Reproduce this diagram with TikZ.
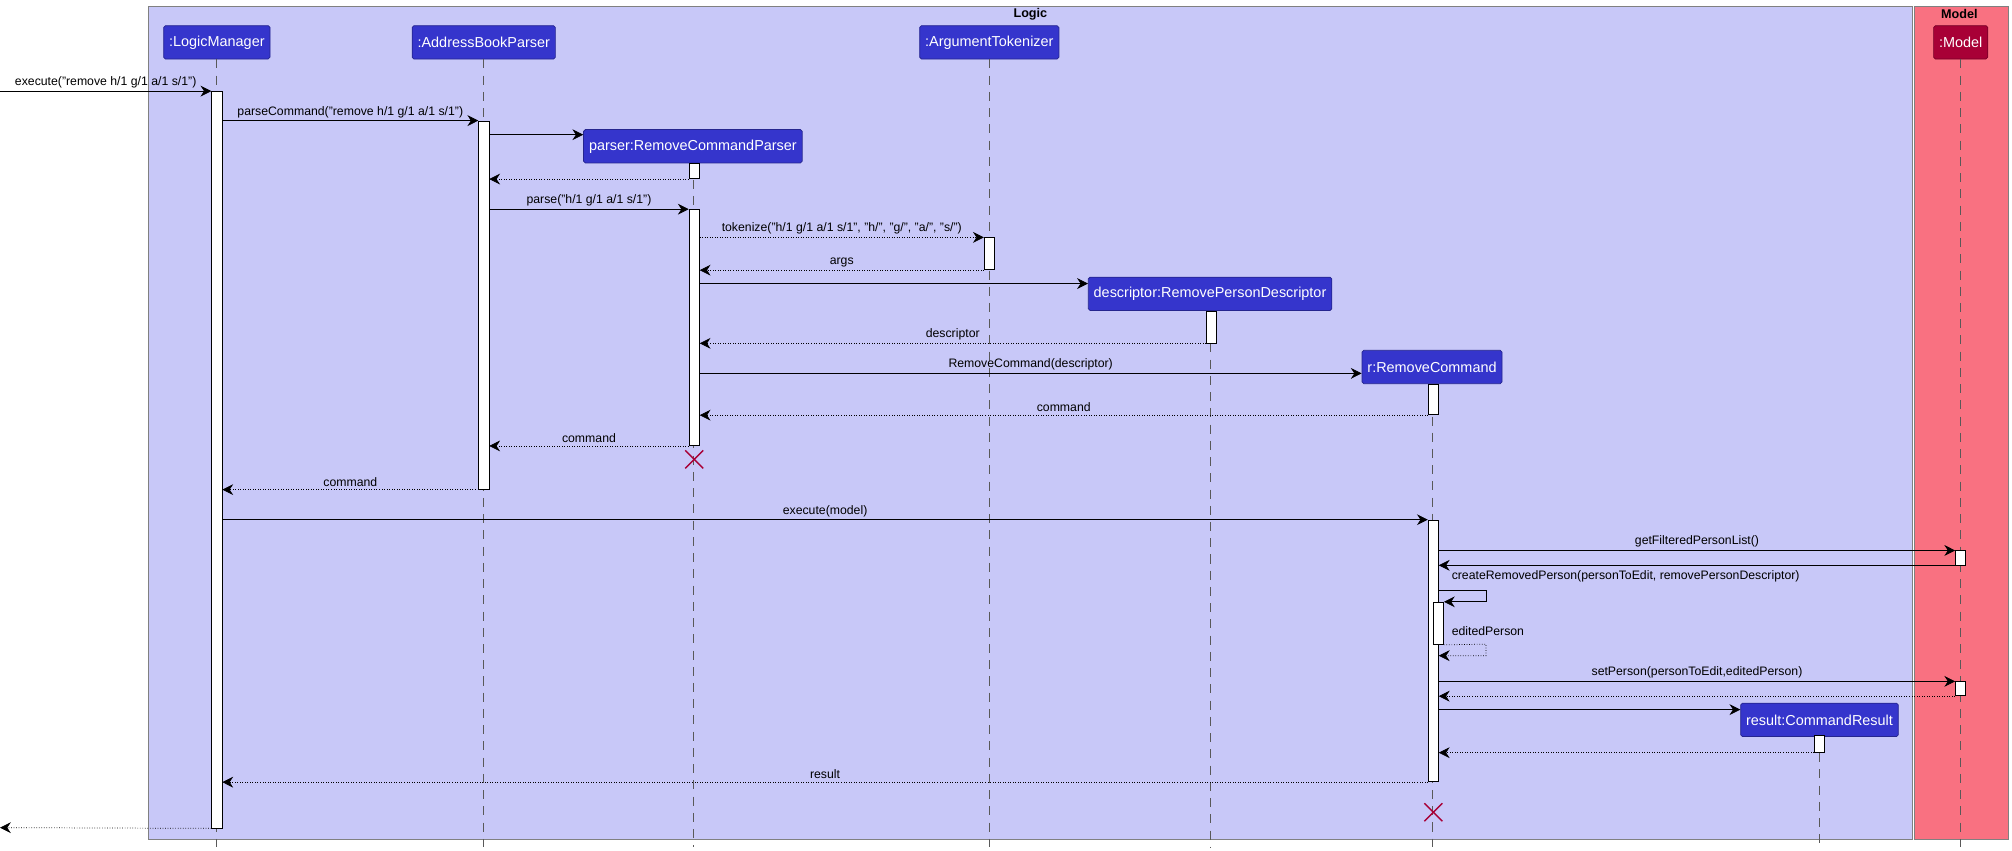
\documentclass[tikz,border=0pt]{standalone}
\usepackage{fontspec}
\setmainfont{Liberation Sans}
\usetikzlibrary{arrows.meta,positioning}

\definecolor{logicbg}{HTML}{C8C8F8}
\definecolor{modelbg}{HTML}{F97181}
\definecolor{partblue}{HTML}{3535CC}
\definecolor{partred}{HTML}{A80036}

\tikzset{
  part/.style={draw=partblue!70!black,fill=partblue,text=white,rounded corners=1pt,
               font=\fontsize{8}{9}\selectfont,inner xsep=3pt,minimum height=0.65cm},
  bar/.style={draw=black,fill=white,minimum width=0.2cm,inner sep=0pt,anchor=north},
  life/.style={draw=gray!70!black,dash pattern=on 5pt off 4pt,thin},
  msg/.style={-{Stealth[length=6pt,width=6pt]},thin},
  ret/.style={msg,densely dotted},
  lbl/.style={font=\fontsize{6.8}{8}\selectfont,inner sep=1.5pt,above},
  kill/.style={draw=partred,thick},
}
\newcommand{\actbar}[4]{\node[bar,minimum height={(#4-#3)*0.025cm}] (#1) at (#2,#3) {};}

\begin{document}
\begin{tikzpicture}[x=0.025cm,y=-0.025cm]
\useasboundingbox (0,0) rectangle (1568,663);

% frames
\filldraw[fill=logicbg,draw=gray] (116,5) rectangle (1490,654);
\filldraw[fill=modelbg,draw=gray] (1492,5) rectangle (1565,654);
\node[font=\fontsize{7}{8}\selectfont\bfseries] (logicT) at (803,11) {Logic};
\node[font=\fontsize{7}{8}\selectfont\bfseries] (modelT) at (1527,11) {Model};

% participants
\node[part] (lm) at (169,33) {:LogicManager};
\node[part] (abp) at (377,33) {:AddressBookParser};
\node[part] (at) at (771,33) {:ArgumentTokenizer};
\node[part,fill=partred,draw=partred!70!black] (mdl) at (1528,33) {:Model};
\node[part] (rcp) at (540,114) {parser:RemoveCommandParser};
\node[part] (desc) at (943,229) {descriptor:RemovePersonDescriptor};
\node[part] (rc) at (1116,286) {r:RemoveCommand};
\node[part] (res) at (1418,561) {result:CommandResult};

% lifelines
\foreach \p in {lm,abp,at,mdl,rcp,desc,rc,res}
  \draw[life] (\p.south) -- (\p.south |- 0,660);

% activations
\actbar{lmA}{169}{71}{645}
\actbar{abpA}{377}{94}{381}
\actbar{rcpA}{541}{127}{139}
\actbar{rcpB}{541}{163}{347}
\actbar{atA}{771}{185}{210}
\actbar{descA}{944}{242}{267}
\actbar{rcA}{1117}{299}{323}
\actbar{rcB}{1117}{405}{609}
\actbar{rcC}{1121}{469}{502}
\actbar{mdlA}{1528}{429}{440}
\actbar{mdlB}{1528}{531}{542}
\actbar{resA}{1418}{573}{586}

% messages
\coordinate (inL) at (0,71);
\coordinate (outL) at (0,645);
\draw[msg] (inL) -- (lmA.west |- inL) node[lbl,pos=0.5] {execute("remove h/1 g/1 a/1 s/1")};
\draw[msg] (lmA.east |- 0,94) -- (abpA.west |- 0,94) node[lbl,midway] {parseCommand("remove h/1 g/1 a/1 s/1")};
\draw[msg] (abpA.east |- 0,105) -- (rcp.west |- 0,105);
\draw[ret] (rcpA.south west) -- (abpA.east |- rcpA.south);
\draw[msg] (abpA.east |- 0,163) -- (rcpB.north west) node[lbl,midway] {parse("h/1 g/1 a/1 s/1")};
\draw[ret] (rcpB.east |- 0,185) -- (atA.north west) node[lbl,midway] {tokenize("h/1 g/1 a/1 s/1", "h/", "g/", "a/", "s/")};
\draw[ret] (atA.south west) -- (rcpB.east |- atA.south) node[lbl,midway] {args};
\draw[msg] (rcpB.east |- 0,221) -- (desc.west |- 0,221);
\draw[ret] (descA.south west) -- (rcpB.east |- descA.south) node[lbl,midway] {descriptor};
\draw[msg] (rcpB.east |- 0,291) -- (rc.west |- 0,291) node[lbl,midway] {RemoveCommand(descriptor)};
\draw[ret] (rcA.south west) -- (rcpB.east |- rcA.south) node[lbl,midway] {command};
\draw[ret] (rcpB.south west) -- (abpA.east |- rcpB.south) node[lbl,midway] {command};
\draw[ret] (abpA.south west) -- (lmA.east |- abpA.south) node[lbl,midway] {command};
\draw[msg] (lmA.east |- 0,405) -- (rcB.north west) node[lbl,midway] {execute(model)};
\draw[msg] (rcB.east |- 0,429) -- (mdlA.north west) node[lbl,midway] {getFilteredPersonList()};
\draw[msg] (mdlA.south west) -- (rcB.east |- mdlA.south);
\draw[msg] (rcB.east |- 0,460) -- (1158,460) -- (1158,469) -- (rcC.north east)
  node[lbl,anchor=south west,at={(1129,456)}] {createRemovedPerson(personToEdit, removePersonDescriptor)};
\draw[ret] (rcC.south east) -- (1158,502) -- (1158,511) -- (rcB.east |- 0,511)
  node[lbl,anchor=south west,at={(1129,498)}] {editedPerson};
\draw[msg] (rcB.east |- 0,531) -- (mdlB.north west) node[lbl,midway] {setPerson(personToEdit,editedPerson)};
\draw[ret] (mdlB.south west) -- (rcB.east |- mdlB.south);
\draw[msg] (rcB.east |- 0,553) -- (res.west |- 0,553);
\draw[ret] (resA.south west) -- (rcB.east |- resA.south);
\draw[ret] (rcB.south west) -- (lmA.east |- rcB.south) node[lbl,midway] {result};
\draw[ret] (lmA.south west) -- (outL);

% destroyed
\draw[kill] (534,351) -- (548,365) (548,351) -- (534,365);
\draw[kill] (1110,626) -- (1124,640) (1124,626) -- (1110,640);
\end{tikzpicture}
\end{document}
